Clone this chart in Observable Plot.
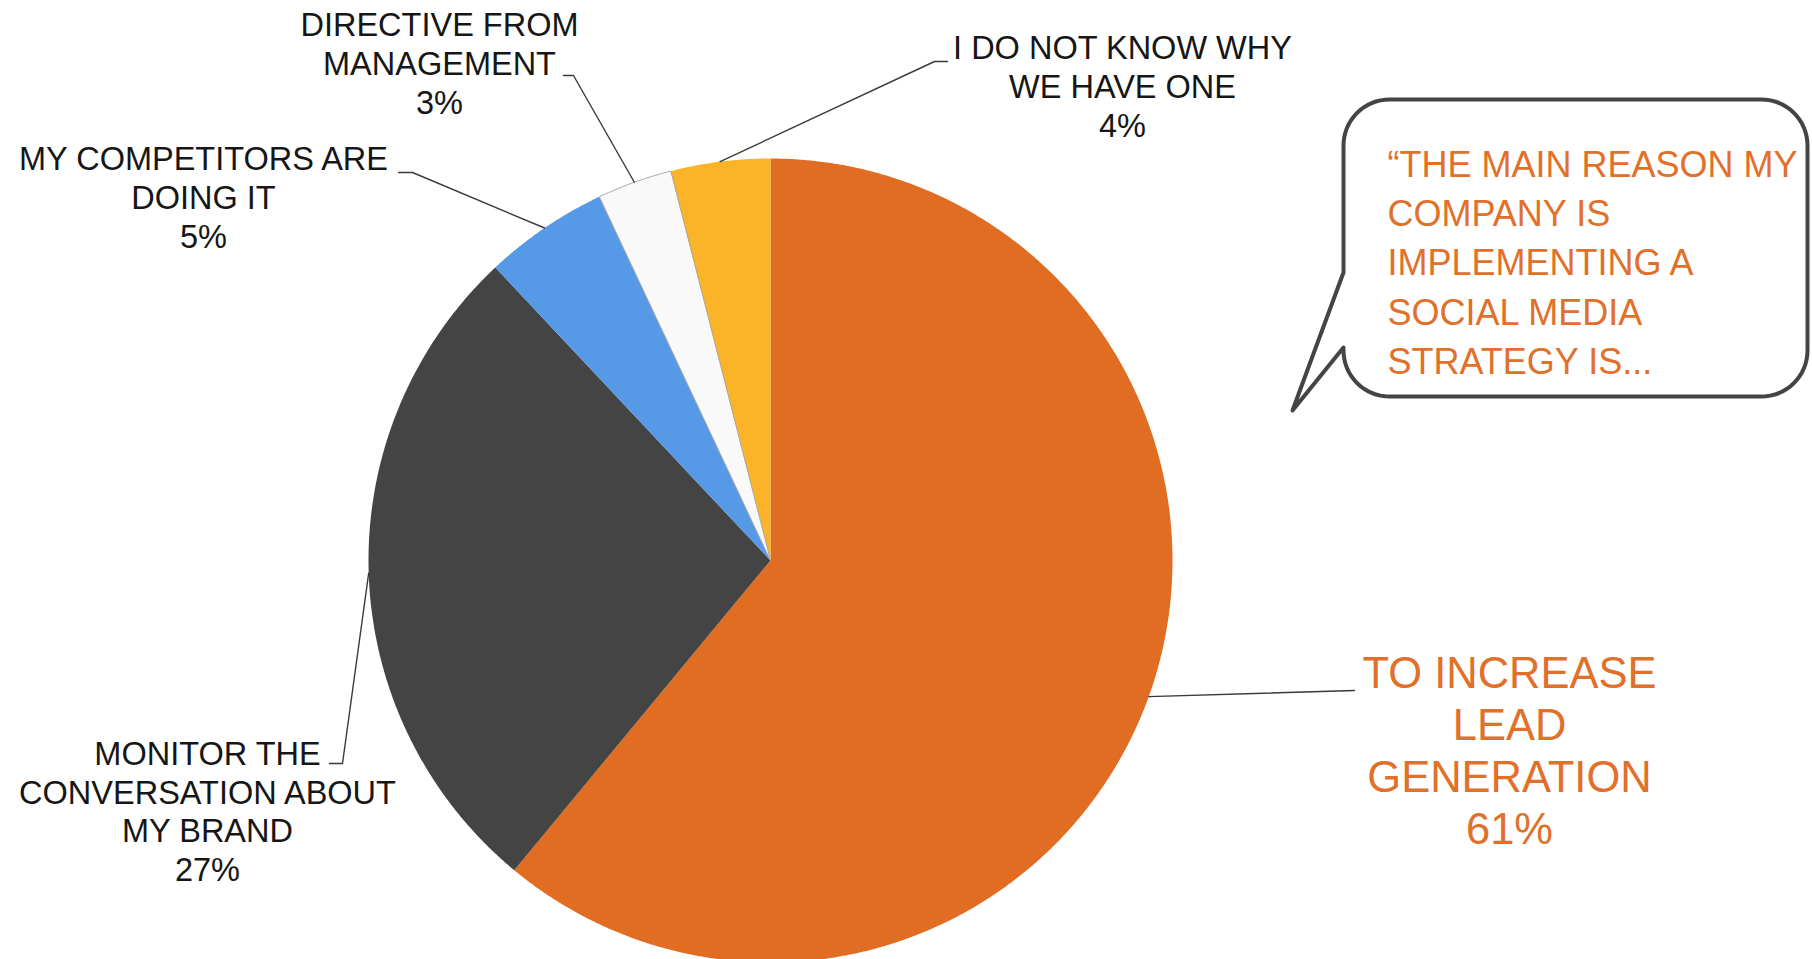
<!DOCTYPE html>
<html>
<head>
<meta charset="utf-8">
<script src="https://cdn.jsdelivr.net/npm/d3@7"></script>
<script src="https://cdn.jsdelivr.net/npm/@observablehq/plot@0.6"></script>
<style>
html,body{margin:0;padding:0;background:#fff;overflow:hidden}
#chart svg{display:block}
</style>
</head>
<body>
<div id="chart"></div>
<script>
// ---- data ----
const keys = ["lead", "monitor", "competitors", "directive", "unknown"];
const labels = [
  "TO INCREASE\nLEAD\nGENERATION",
  "MONITOR THE\nCONVERSATION ABOUT\nMY BRAND",
  "MY COMPETITORS ARE\nDOING IT",
  "DIRECTIVE FROM\nMANAGEMENT",
  "I DO NOT KNOW WHY\nWE HAVE ONE"
];
const values = [61, 27, 5, 3, 4];
const colors = ["#E06D22", "#444444", "#5699E6", "#F9F9F9", "#FBB427"];
const calloutText = "\u201CTHE MAIN REASON MY\nCOMPANY IS\nIMPLEMENTING A\nSOCIAL MEDIA\nSTRATEGY IS...";

// ---- layout (pixels) ----
const W = 1812, H = 959;
const CX = 770, CY = 560, R = 402;
const labelPos = [[1509, 749], [207, 810], [203, 196], [439, 62], [1122, 85]];
const elbows = [
  [[1354, 690]],
  [[342, 763], [329, 763]],
  [[412, 172], [398, 172]],
  [[573, 75], [563, 75]],
  [[934, 61], [947, 61]]
];
const bubble = {L: 1343, R: 1807, T: 99, B: 396, r: 46, tailTop: 272, tailBottom: 347, tip: [1292, 410]};
const calloutPos = [1387, 259];

const ux = px => (px - CX) / R;
const vy = py => (CY - py) / R;

// ---- pie geometry ----
const arcs = d3.pie().sort(null).value(d => d.value)(
  keys.map((k, i) => ({key: k, value: values[i], label: labels[i], color: colors[i], i}))
);
const slicePts = [];
arcs.forEach(a => {
  slicePts.push({key: a.data.key, x: 0, y: 0});
  const n = Math.max(8, Math.ceil((a.endAngle - a.startAngle) / 0.005));
  for (let j = 0; j <= n; j++) {
    const t = a.startAngle + (a.endAngle - a.startAngle) * j / n;
    slicePts.push({key: a.data.key, x: Math.sin(t), y: Math.cos(t)});
  }
});

// leader lines
const leaderPts = [];
arcs.forEach((a, i) => {
  const m = (a.startAngle + a.endAngle) / 2;
  leaderPts.push({i, x: Math.sin(m), y: Math.cos(m)});
  elbows[i].forEach(p => leaderPts.push({i, x: ux(p[0]), y: vy(p[1])}));
});

// labels
const labelData = arcs.map((a, i) => ({
  x: ux(labelPos[i][0]), y: vy(labelPos[i][1]),
  text: a.data.label + "\n" + a.data.value + "%",
  main: i === 0
}));

// callout bubble path
const bub = [];
function arcPts(cx, cy, r, a0, a1) {
  const n = 16;
  for (let j = 0; j <= n; j++) {
    const t = a0 + (a1 - a0) * j / n;
    bub.push({x: ux(cx + r * Math.cos(t)), y: vy(cy + r * Math.sin(t))});
  }
}
{
  const {L, R: Rr, T, B, r} = bubble;
  arcPts(L + r, T + r, r, Math.PI, 1.5 * Math.PI);       // top-left
  arcPts(Rr - r, T + r, r, 1.5 * Math.PI, 2 * Math.PI);  // top-right
  arcPts(Rr - r, B - r, r, 0, 0.5 * Math.PI);            // bottom-right
  arcPts(L + r, B - r, r, 0.5 * Math.PI, Math.PI);       // bottom-left
  bub.push({x: ux(L), y: vy(bubble.tailBottom)});
  bub.push({x: ux(bubble.tip[0]), y: vy(bubble.tip[1])});
  bub.push({x: ux(L), y: vy(bubble.tailTop)});
}

const plot = Plot.plot({
  width: W, height: H,
  margin: 0,
  style: {background: "#fff", fontFamily: "'Liberation Sans', Arial, sans-serif", overflow: "visible"},
  x: {type: "linear", domain: [-1, 1], range: [CX - R, CX + R], axis: null},
  y: {type: "linear", domain: [-1, 1], range: [CY + R, CY - R], axis: null},
  color: {domain: keys, range: colors},
  marks: [
    Plot.line(slicePts, {x: "x", y: "y", z: "key", fill: "key", stroke: "none", curve: "linear-closed"}),
    Plot.line(slicePts.filter(d => d.key === "directive"), {x: "x", y: "y", stroke: "#a8a8a8", strokeWidth: 1, curve: "linear-closed"}),
    Plot.line(leaderPts, {x: "x", y: "y", z: "i", stroke: "#3a3a3a", strokeWidth: 1.4}),
    Plot.line(bub, {x: "x", y: "y", fill: "#fff", stroke: "#444", strokeWidth: 4, curve: "linear-closed", strokeLinejoin: "round"}),
    Plot.text(labelData.filter(d => !d.main), {x: "x", y: "y", text: "text", fill: "#161616", fontSize: 32.5, lineHeight: 1.19, textAnchor: "middle"}),
    Plot.text(labelData.filter(d => d.main), {x: "x", y: "y", text: "text", fill: "#E0702A", fontSize: 43.5, lineHeight: 1.19, textAnchor: "middle"}),
    Plot.text([calloutText], {x: ux(calloutPos[0]), y: vy(calloutPos[1]), text: d => d, fill: "#E0702A", fontSize: 36, lineHeight: 1.372, textAnchor: "start"})
  ]
});
document.getElementById("chart").appendChild(plot);
</script>
</body>
</html>
